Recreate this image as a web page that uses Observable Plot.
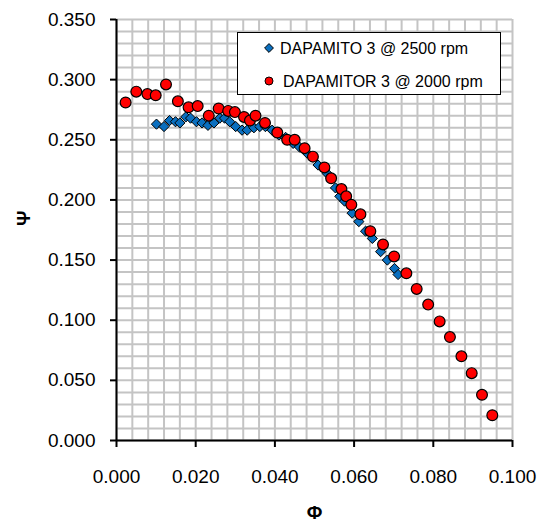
<!DOCTYPE html>
<html>
<head>
<meta charset="utf-8">
<script src="https://cdn.jsdelivr.net/npm/d3@7"></script>
<script src="https://cdn.jsdelivr.net/npm/@observablehq/plot@0.6"></script>
<style>
  html, body { margin: 0; padding: 0; background: #fff; }
  #chart { position: relative; width: 547px; height: 527px; }
</style>
</head>
<body>
<div id="chart"></div>
<script>
// Series: DAPAMITO 3 @ 2500 rpm (blue diamonds)
const phi2500 = [0.0101,0.0120,0.0134,0.0149,0.0160,0.0175,0.0187,0.0202,0.0216,0.0231,0.0246,0.0261,0.0273,0.0286,0.0301,0.0317,0.0330,0.0347,0.0362,0.0376,0.0393,0.0410,0.0427,0.0446,0.0462,0.0481,0.0509,0.0532,0.0553,0.0564,0.0576,0.0595,0.0612,0.0629,0.0646,0.0667,0.0684,0.0702,0.0711];
const psi2500 = [0.263,0.261,0.266,0.265,0.264,0.269,0.268,0.265,0.264,0.262,0.264,0.268,0.268,0.265,0.261,0.258,0.258,0.260,0.261,0.261,0.258,0.254,0.252,0.247,0.244,0.239,0.229,0.222,0.210,0.203,0.199,0.189,0.182,0.174,0.168,0.157,0.150,0.143,0.138];

// Series: DAPAMITOR 3 @ 2000 rpm (red circles)
const phi2000 = [0.0023,0.0050,0.0078,0.0099,0.0125,0.0155,0.0182,0.0205,0.0233,0.0258,0.0282,0.0299,0.0322,0.0337,0.0351,0.0375,0.0406,0.0431,0.0450,0.0475,0.0496,0.0525,0.0542,0.0568,0.0580,0.0593,0.0616,0.0641,0.0673,0.0701,0.0732,0.0758,0.0787,0.0816,0.0842,0.0871,0.0897,0.0923,0.0949];
const psi2000 = [0.281,0.290,0.288,0.287,0.296,0.282,0.277,0.278,0.270,0.276,0.274,0.273,0.269,0.266,0.270,0.264,0.256,0.250,0.250,0.243,0.236,0.227,0.218,0.209,0.203,0.196,0.188,0.174,0.163,0.153,0.139,0.126,0.113,0.099,0.086,0.070,0.056,0.038,0.021];

const seriesNames = ["DAPAMITO 3 @ 2500 rpm", "DAPAMITOR 3 @ 2000 rpm"];
const xTicks = [0, 0.02, 0.04, 0.06, 0.08, 0.1];
const yTicks = [0, 0.05, 0.1, 0.15, 0.2, 0.25, 0.3, 0.35];
const xGrid = d3.range(0, 26).map(i => i * 0.004);
const yGrid = d3.range(0, 36).map(i => i * 0.01);
const xTitle = "Φ";
const yTitle = "Ψ";

const blue = phi2500.map((p, i) => ({phi: p, psi: psi2500[i]}));
const red = phi2000.map((p, i) => ({phi: p, psi: psi2000[i]}));

const FONT = "'Liberation Sans', Arial, sans-serif";

const plot = Plot.plot({
  width: 547,
  height: 527,
  marginLeft: 116,
  marginRight: 35,
  marginTop: 19,
  marginBottom: 87,
  style: {fontFamily: FONT, background: "#fff", color: "#000", overflow: "visible"},
  x: {domain: [0, 0.1], label: null},
  y: {domain: [0, 0.35], label: null},
  marks: [
    Plot.gridX(xGrid, {stroke: "#c4c4c4", strokeOpacity: 1, strokeWidth: 2}),
    Plot.gridY(yGrid, {stroke: "#c4c4c4", strokeOpacity: 1, strokeWidth: 2}),
    Plot.axisX(xTicks, {tickSize: 7, tickPadding: 22, tickFormat: d => d.toFixed(3), fontSize: 19, strokeWidth: 2, label: null}),
    Plot.axisY(yTicks, {tickSize: 6, tickPadding: 15, tickFormat: d => d.toFixed(3), fontSize: 19, strokeWidth: 2, label: null}),
    Plot.ruleX([0], {stroke: "#000", strokeWidth: 2}),
    Plot.ruleY([0], {stroke: "#000", strokeWidth: 2}),
    Plot.dot(blue, {x: "phi", y: "psi", symbol: "diamond2", r: 4.6, fill: "#0a6fbf", stroke: "#000", strokeWidth: 1}),
    Plot.dot(red, {x: "phi", y: "psi", symbol: "circle", r: 5.4, fill: "#ff0000", stroke: "#000", strokeWidth: 1.2}),
    Plot.text([xTitle], {frameAnchor: "bottom", dy: 78, fontSize: 19, fontWeight: "bold"}),
    Plot.text([yTitle], {frameAnchor: "left", dx: -93, dy: -4, rotate: -90, fontSize: 19, fontWeight: "bold"})
  ]
});

document.getElementById("chart").appendChild(plot);

// In-plot legend box
const svg = d3.select(plot);
const lg = svg.append("g")
  .attr("font-family", FONT)
  .attr("font-size", 16)
  .attr("text-anchor", "start")
  .attr("fill", "#000");
lg.append("rect")
  .attr("x", 237.5).attr("y", 32.5).attr("width", 263).attr("height", 62)
  .style("fill", "#ffffff").style("stroke", "#000").style("stroke-width", "1px");
lg.append("path").attr("transform", "translate(269,48)")
  .attr("d", d3.symbol(d3.symbolDiamond2, 50)())
  .style("fill", "#0a6fbf").style("stroke", "#000").style("stroke-width", "1px");
lg.append("circle").attr("cx", 269).attr("cy", 81).attr("r", 4)
  .style("fill", "#ff0000").style("stroke", "#000").style("stroke-width", "1px");
lg.append("text").attr("x", 280).attr("y", 48).attr("dy", "0.35em")
  .style("text-anchor", "start").style("fill", "#000").text(seriesNames[0]);
lg.append("text").attr("x", 283).attr("y", 81).attr("dy", "0.35em")
  .style("text-anchor", "start").style("fill", "#000").text(seriesNames[1]);
</script>
</body>
</html>
